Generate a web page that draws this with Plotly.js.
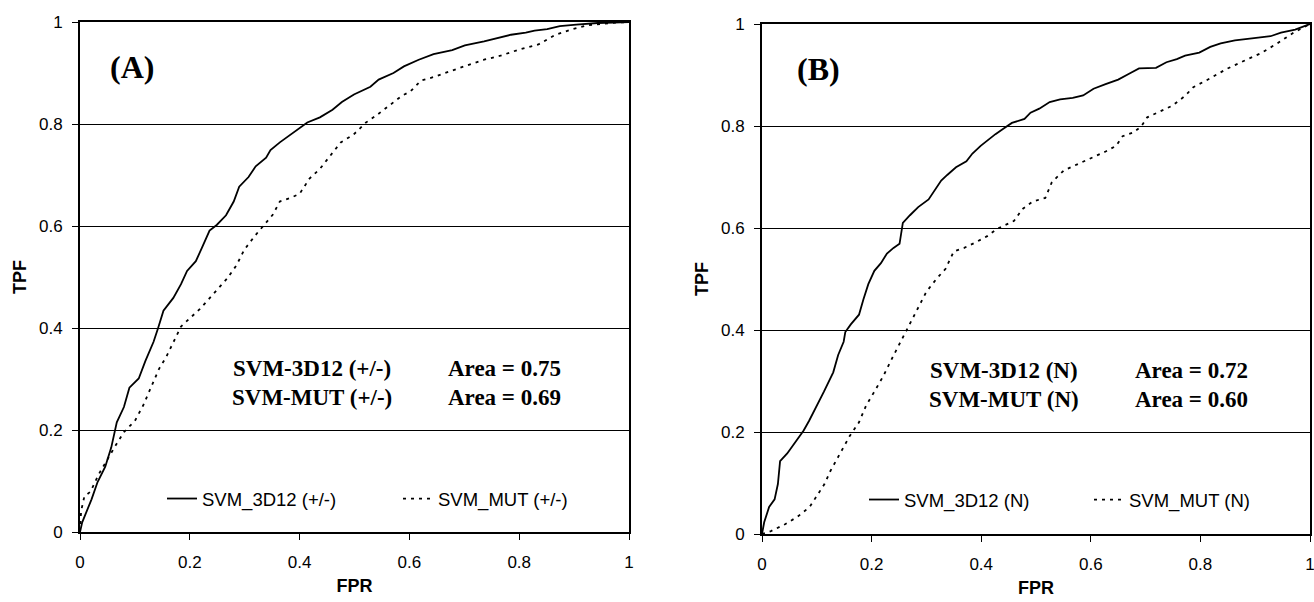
<!DOCTYPE html>
<html>
<head>
<meta charset="utf-8">
<script src="https://cdn.plot.ly/plotly-3.0.1.min.js"></script>
<style>
  html, body { margin: 0; padding: 0; background: #fff; overflow: hidden; }
  #chart { width: 1314px; height: 602px; }
</style>
</head>
<body>
<div id="chart"></div>
<script>
// ROC curves, panel (A): +/- classification
const fprA_3d12 = [0, 0.004, 0.021, 0.032, 0.046, 0.057, 0.067, 0.080, 0.090, 0.107, 0.119, 0.134, 0.142, 0.152, 0.170, 0.184, 0.195, 0.211, 0.222, 0.236, 0.249, 0.266, 0.280, 0.290, 0.307, 0.320, 0.339, 0.347, 0.364, 0.391, 0.414, 0.437, 0.460, 0.477, 0.499, 0.529, 0.544, 0.571, 0.590, 0.617, 0.644, 0.678, 0.701, 0.736, 0.762, 0.785, 0.812, 0.828, 0.851, 0.874, 0.904, 0.943, 1];
const tpfA_3d12 = [0, 0.019, 0.064, 0.098, 0.128, 0.166, 0.215, 0.245, 0.283, 0.301, 0.335, 0.373, 0.399, 0.434, 0.459, 0.486, 0.512, 0.531, 0.557, 0.591, 0.602, 0.621, 0.648, 0.677, 0.696, 0.717, 0.734, 0.749, 0.764, 0.785, 0.803, 0.813, 0.828, 0.843, 0.858, 0.873, 0.887, 0.900, 0.913, 0.926, 0.937, 0.945, 0.954, 0.962, 0.969, 0.975, 0.979, 0.983, 0.986, 0.992, 0.995, 0.998, 1];

const fprA_mut = [0, 0.002, 0.008, 0.019, 0.034, 0.050, 0.065, 0.080, 0.100, 0.115, 0.129, 0.144, 0.157, 0.169, 0.184, 0.203, 0.218, 0.234, 0.249, 0.268, 0.285, 0.299, 0.318, 0.333, 0.351, 0.364, 0.383, 0.400, 0.418, 0.437, 0.456, 0.475, 0.498, 0.521, 0.540, 0.563, 0.586, 0.602, 0.621, 0.644, 0.674, 0.705, 0.736, 0.766, 0.797, 0.835, 0.866, 0.897, 0.927, 0.966, 1];
const tpfA_mut = [0, 0.041, 0.070, 0.079, 0.113, 0.143, 0.170, 0.196, 0.218, 0.248, 0.282, 0.320, 0.343, 0.369, 0.403, 0.422, 0.437, 0.456, 0.474, 0.497, 0.523, 0.553, 0.580, 0.599, 0.622, 0.648, 0.655, 0.663, 0.693, 0.712, 0.738, 0.764, 0.779, 0.803, 0.817, 0.836, 0.855, 0.864, 0.885, 0.892, 0.904, 0.915, 0.926, 0.934, 0.945, 0.956, 0.975, 0.986, 0.994, 0.998, 1];

// ROC curves, panel (B): N classification
const fprB_3d12 = [0, 0.004, 0.013, 0.023, 0.029, 0.033, 0.046, 0.061, 0.076, 0.086, 0.099, 0.113, 0.130, 0.139, 0.149, 0.152, 0.162, 0.177, 0.185, 0.194, 0.205, 0.217, 0.228, 0.240, 0.251, 0.257, 0.270, 0.285, 0.304, 0.316, 0.327, 0.338, 0.354, 0.373, 0.384, 0.399, 0.411, 0.426, 0.441, 0.456, 0.479, 0.490, 0.506, 0.525, 0.544, 0.567, 0.586, 0.605, 0.627, 0.650, 0.669, 0.688, 0.719, 0.738, 0.757, 0.772, 0.798, 0.818, 0.837, 0.863, 0.894, 0.928, 0.947, 0.973, 1];
const tpfB_3d12 = [0, 0.023, 0.053, 0.068, 0.098, 0.143, 0.158, 0.181, 0.203, 0.222, 0.249, 0.279, 0.317, 0.351, 0.377, 0.396, 0.411, 0.430, 0.460, 0.490, 0.516, 0.531, 0.550, 0.561, 0.569, 0.610, 0.625, 0.641, 0.656, 0.674, 0.693, 0.704, 0.719, 0.731, 0.746, 0.761, 0.772, 0.784, 0.795, 0.806, 0.814, 0.826, 0.834, 0.847, 0.852, 0.855, 0.860, 0.873, 0.882, 0.891, 0.902, 0.913, 0.914, 0.925, 0.931, 0.938, 0.944, 0.955, 0.962, 0.968, 0.972, 0.976, 0.983, 0.989, 1];

const fprB_mut = [0, 0.015, 0.042, 0.065, 0.087, 0.101, 0.114, 0.125, 0.141, 0.160, 0.177, 0.190, 0.205, 0.221, 0.240, 0.253, 0.266, 0.281, 0.300, 0.319, 0.335, 0.350, 0.369, 0.392, 0.411, 0.430, 0.460, 0.475, 0.494, 0.517, 0.529, 0.551, 0.574, 0.605, 0.627, 0.646, 0.658, 0.677, 0.692, 0.703, 0.726, 0.749, 0.772, 0.787, 0.817, 0.848, 0.878, 0.909, 0.939, 0.970, 1];
const tpfB_mut = [0, 0.005, 0.019, 0.034, 0.053, 0.075, 0.098, 0.124, 0.155, 0.192, 0.219, 0.252, 0.279, 0.309, 0.350, 0.377, 0.403, 0.437, 0.475, 0.501, 0.520, 0.554, 0.561, 0.573, 0.584, 0.599, 0.614, 0.637, 0.652, 0.659, 0.690, 0.713, 0.724, 0.739, 0.750, 0.761, 0.780, 0.787, 0.799, 0.817, 0.829, 0.840, 0.859, 0.876, 0.893, 0.912, 0.927, 0.942, 0.961, 0.983, 1];

const seriesNames = ['SVM_3D12 (+/-)', 'SVM_MUT (+/-)', 'SVM_3D12 (N)', 'SVM_MUT (N)'];
const panelLabels = ['(A)', '(B)'];
const areaModels = [['SVM-3D12 (+/-)', 'SVM-MUT (+/-)'], ['SVM-3D12 (N)', 'SVM-MUT (N)']];
const areaValues = [[0.75, 0.69], [0.72, 0.60]];
const tickVals = [0, 0.2, 0.4, 0.6, 0.8, 1];

const W = 1314, H = 602;
const solid = { color: '#000', width: 1.8 };
const dotted = { color: '#000', width: 1.8, dash: '3px,5px' };

const traces = [
  { x: fprA_3d12, y: tpfA_3d12, name: seriesNames[0], mode: 'lines', line: solid, xaxis: 'x', yaxis: 'y', legend: 'legend' },
  { x: fprA_mut, y: tpfA_mut, name: seriesNames[1], mode: 'lines', line: dotted, xaxis: 'x', yaxis: 'y', legend: 'legend' },
  { x: fprB_3d12, y: tpfB_3d12, name: seriesNames[2], mode: 'lines', line: solid, xaxis: 'x2', yaxis: 'y2', legend: 'legend2' },
  { x: fprB_mut, y: tpfB_mut, name: seriesNames[3], mode: 'lines', line: dotted, xaxis: 'x2', yaxis: 'y2', legend: 'legend2' }
];

const tickFont = { family: 'Liberation Sans, Arial, sans-serif', size: 17, color: '#000' };
const titleFont = { family: 'Liberation Sans, Arial, sans-serif', size: 18, color: '#000', weight: 'bold' };

function xAxis(domain, anchor) {
  return {
    domain: domain, anchor: anchor, range: [0, 1], fixedrange: true,
    tickvals: tickVals, ticks: 'outside', ticklen: 6, tickwidth: 1, tickcolor: '#000',
    ticklabelstandoff: 8, ticklabeloverflow: 'allow',
    showline: true, mirror: true, linecolor: '#000', linewidth: 2,
    showgrid: false, zeroline: false, tickfont: tickFont, automargin: false,
    title: { text: '<b>FPR</b>', font: titleFont, standoff: 8 }
  };
}
function yAxis(domain, anchor) {
  return {
    domain: domain, anchor: anchor, range: [0, 1], fixedrange: true,
    tickvals: tickVals, ticks: 'outside', ticklen: 6, tickwidth: 1, tickcolor: '#000',
    ticklabelstandoff: 6, ticklabeloverflow: 'allow',
    showline: true, mirror: true, linecolor: '#000', linewidth: 2,
    showgrid: true, gridcolor: '#000', gridwidth: 1, zeroline: false,
    tickfont: tickFont, automargin: false,
    title: { text: '<b>TPF</b>', font: titleFont, standoff: 8 }
  };
}

const annFont = { family: 'Liberation Serif, Times New Roman, serif', size: 23, color: '#000' };
const annotations = [];
['x', 'x2'].forEach(function (xr, i) {
  const yr = i === 0 ? 'y' : 'y2';
  annotations.push({
    xref: xr + ' domain', yref: yr + ' domain', x: i === 0 ? 0.095 : 0.104, y: 0.912,
    text: '<b>' + panelLabels[i] + '</b>', showarrow: false, xanchor: 'center', yanchor: 'middle',
    font: { family: annFont.family, size: 32, color: '#000' }
  });
  [0, 1].forEach(function (r) {
    const yy = r === 0 ? 0.321 : 0.264;
    annotations.push({
      xref: xr + ' domain', yref: yr + ' domain', x: i === 0 ? 0.422 : 0.441, y: yy,
      text: '<b>' + areaModels[i][r] + '</b>', showarrow: false, xanchor: 'center', yanchor: 'middle', font: annFont
    });
    annotations.push({
      xref: xr + ' domain', yref: yr + ' domain', x: i === 0 ? 0.774 : 0.784, y: yy,
      text: '<b>Area = ' + areaValues[i][r].toFixed(2) + '</b>', showarrow: false, xanchor: 'center', yanchor: 'middle', font: annFont
    });
  });
});

const legendFont = { family: 'Liberation Sans, Arial, sans-serif', size: 18.5, color: '#000' };
const layout = {
  width: W, height: H,
  margin: { l: 0, r: 0, t: 0, b: 0, autoexpand: false },
  paper_bgcolor: '#fff', plot_bgcolor: '#fff',
  font: tickFont,
  showlegend: true,
  hovermode: false,
  xaxis: xAxis([80 / W, 629 / W], 'y'),
  yaxis: yAxis([1 - 532 / H, 1 - 22 / H], 'x'),
  xaxis2: xAxis([762 / W, 1310 / W], 'y2'),
  yaxis2: yAxis([1 - 534 / H, 1 - 24 / H], 'x2'),
  legend: {
    orientation: 'h', x: 162 / W, xanchor: 'left', y: 1 - 499 / H, yanchor: 'middle',
    bgcolor: 'rgba(0,0,0,0)', font: legendFont, entrywidth: 191, entrywidthmode: 'pixels'
  },
  legend2: {
    orientation: 'h', x: 864 / W, xanchor: 'left', y: 1 - 500 / H, yanchor: 'middle',
    bgcolor: 'rgba(0,0,0,0)', font: legendFont, entrywidth: 180, entrywidthmode: 'pixels'
  },
  annotations: annotations
};

Plotly.newPlot('chart', traces, layout, { displayModeBar: false, staticPlot: true });
</script>
</body>
</html>
